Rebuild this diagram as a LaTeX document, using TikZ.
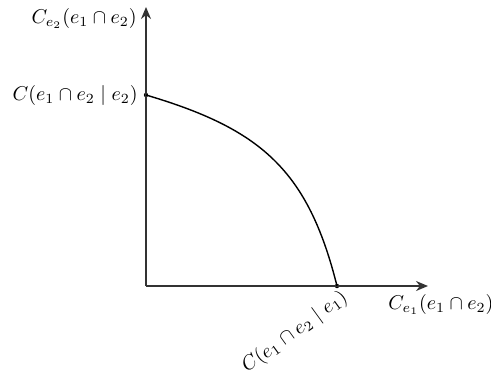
\documentclass[tikz,border=0pt]{standalone}
\usetikzlibrary{arrows.meta}
\begin{document}
\begin{tikzpicture}[x=0.5pt,y=-0.5pt,
  axis/.style={draw=black!80, line width=0.75pt, -{Stealth[length=6pt,width=5pt]}},
  curveline/.style={draw=black, line width=0.7pt},
  pt/.style={circle, fill=black, inner sep=0pt, minimum size=2.2pt},
  lbl/.style={font=\fontsize{10}{12}\selectfont, inner sep=1pt}]
\useasboundingbox (0,0) rectangle (491,376);
\coordinate (O) at (146,286);
\coordinate (Y) at (146,7);
\coordinate (X) at (428,286);
\node[pt] (A) at (146,95) {};
\node[pt] (B) at (337,286) {};
\draw[axis] (O.center) -- (Y);
\draw[axis] (O.center) -- (X);
\draw[curveline] (A.center) .. controls (261,129) and (308,170) .. (B.center);
\node[lbl, anchor=east] (ty) at (139,18) {$C_{e_2}(e_1 \cap e_2)$};
\node[lbl, anchor=east] (ta) at (140,95) {$C(e_1 \cap e_2 \mid e_2)$};
\node[lbl, anchor=west] (tx) at (386,304) {$C_{e_1}(e_1 \cap e_2)$};
\node[lbl, anchor=north east, rotate=36] (tb) at (340,284) {$C(e_1 \cap e_2 \mid e_1)$};
\end{tikzpicture}
\end{document}
